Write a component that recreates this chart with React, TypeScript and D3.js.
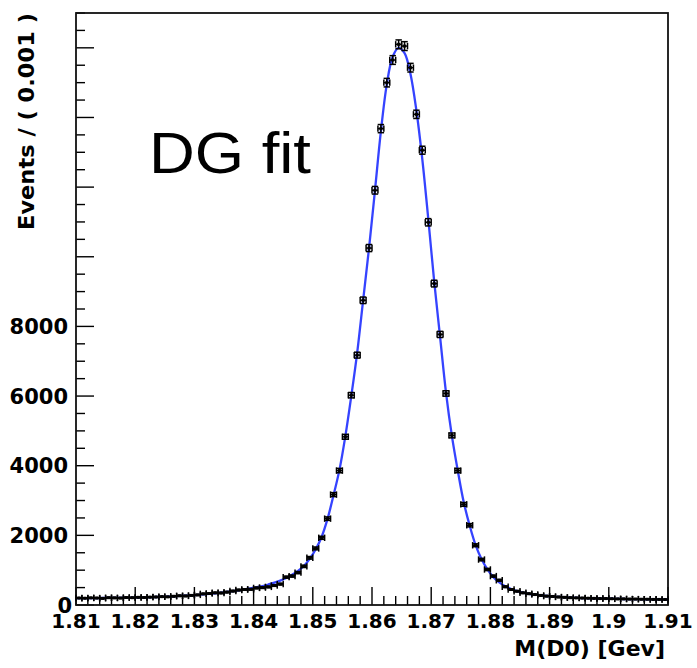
import React from "react";
import * as d3 from "d3";

// Histogram counts per 0.001 GeV bin, 1.810 .. 1.910 (100 bins)
const binEdgesStart = 1.81;
const binWidth = 0.001;
const counts = [
  200, 195, 205, 200, 190, 210, 205, 200, 215, 210,
  220, 215, 225, 230, 240, 235, 250, 265, 260, 275,
  290, 320, 330, 350, 345, 370, 400, 430, 445, 450,
  490, 500, 520, 560, 600, 800, 830, 930, 1110, 1355,
  1625, 1930, 2480, 3170, 3860, 4830, 6025, 7175, 8750, 10250,
  11910, 13680, 15000, 15650, 16100, 16050, 15430, 14090, 13060, 10990,
  9230, 7770, 6075, 4870, 3860, 2890, 2290, 1715, 1305, 1020,
  830, 710, 525, 445, 395, 350, 325, 300, 275, 255,
  245, 230, 220, 210, 205, 200, 195, 190, 185, 185,
  180, 175, 175, 170, 170, 165, 165, 160, 160, 158,
];

// Double-Gaussian fit curve, read at bin centres
const fitValues = [
  195, 196, 197, 199, 201, 203, 205, 207, 210, 213,
  216, 220, 225, 230, 236, 243, 251, 260, 269, 279,
  290, 305, 320, 337, 355, 375, 397, 422, 450, 480,
  510, 545, 590, 640, 700, 775, 870, 980, 1120, 1330,
  1600, 1960, 2480, 3150, 3880, 4850, 6000, 7250, 8750, 10250,
  11900, 13600, 14950, 15750, 16000, 15850, 15250, 14200, 12800, 11100,
  9300, 7700, 6100, 4850, 3850, 2950, 2280, 1720, 1320, 1020,
  800, 650, 540, 460, 400, 355, 320, 295, 275, 258,
  244, 232, 222, 213, 206, 200, 195, 190, 186, 182,
  179, 176, 173, 170, 168, 166, 164, 162, 160, 158,
];

const xTickLabels = ["1.81", "1.82", "1.83", "1.84", "1.85", "1.86", "1.87", "1.88", "1.89", "1.9", "1.91"];
const yTickValues = [0, 2000, 4000, 6000, 8000];
const yTickLabels = ["0", "2000", "4000", "6000", "8000"];

const W = 697;
const H = 668;
const L = 76, R = 668, T = 13, B = 605;

export default function App() {
  const x = d3.scaleLinear().domain([1.81, 1.91]).range([L, R]);
  const y = d3.scaleLinear().domain([0, 17000]).range([B, T]);

  const centers = counts.map((_, i) => binEdgesStart + (i + 0.5) * binWidth);

  const fitPts: [number, number][] = [
    [1.81, fitValues[0]],
    ...fitValues.map((v, i) => [centers[i], v] as [number, number]),
    [1.91, fitValues[fitValues.length - 1]],
  ];
  const line = d3
    .line<[number, number]>()
    .x((d) => x(d[0]))
    .y((d) => y(d[1]))
    .curve(d3.curveCatmullRom.alpha(0.5));

  const xTicks = d3.range(0, 51).map((k) => ({ v: 1.81 + k * 0.002, major: k % 5 === 0 }));
  const yTicks = d3.range(0, 35).map((k) => ({ v: k * 500, major: k % 4 === 0 }));

  const cap = 3.2;
  const font = "'DejaVu Sans', sans-serif";

  return (
    <svg
      width={W}
      height={H}
      style={{ position: "absolute", left: 0, top: 0, background: "#fff" }}
    >
      <rect x={0} y={0} width={W} height={H} fill="#fff" />
      {/* ticks */}
      {xTicks.map((t, i) => (
        <line
          key={"xt" + i}
          x1={x(t.v)}
          x2={x(t.v)}
          y1={B}
          y2={B - (t.major ? 18 : 9)}
          stroke="#000"
          strokeWidth={1.4}
        />
      ))}
      {yTicks.map((t, i) => (
        <line
          key={"yt" + i}
          x1={L}
          x2={L + (t.major ? 18 : 9)}
          y1={y(t.v)}
          y2={y(t.v)}
          stroke="#000"
          strokeWidth={1.4}
        />
      ))}
      {/* frame */}
      <rect x={L} y={T} width={R - L} height={B - T} fill="none" stroke="#111" strokeWidth={1.8} />

      {/* fit curve */}
      <path d={line(fitPts) || ""} fill="none" stroke="#1f2fff" strokeWidth={2.3} strokeOpacity={0.9} />

      {/* data points with error bars */}
      {counts.map((c, i) => {
        const cx = x(centers[i]);
        const cy = y(c);
        const xl = x(centers[i] - binWidth / 2);
        const xr = x(centers[i] + binWidth / 2);
        const err = Math.sqrt(c);
        const yt = y(c + err);
        const yb = y(c - err);
        return (
          <g key={"p" + i} stroke="#000" strokeWidth={1.5} fill="none">
            <line x1={xl} x2={xr} y1={cy} y2={cy} />
            <line x1={xl} x2={xl} y1={cy - cap} y2={cy + cap} />
            <line x1={xr} x2={xr} y1={cy - cap} y2={cy + cap} />
            <line x1={cx} x2={cx} y1={yt} y2={yb} />
            <line x1={cx - cap} x2={cx + cap} y1={yt} y2={yt} />
            <line x1={cx - cap} x2={cx + cap} y1={yb} y2={yb} />
            <rect x={cx - 1.5} y={cy - 1.5} width={3} height={3} fill="#000" stroke="none" />
          </g>
        );
      })}

      {/* y tick labels */}
      {yTickValues.map((v, i) => (
        <text
          key={"yl" + i}
          x={v === 0 ? 72 : 68}
          y={y(v)}
          dy="0.36em"
          textAnchor="end"
          fontFamily={font}
          fontWeight="bold"
          fontSize={21}
          fill="#000"
        >
          {yTickLabels[i]}
        </text>
      ))}
      {/* x tick labels */}
      {xTickLabels.map((s, i) => (
        <text
          key={"xl" + i}
          x={x(1.81 + i * 0.01)}
          y={628}
          textAnchor="middle"
          fontFamily={font}
          fontWeight="bold"
          fontSize={20}
          fill="#000"
        >
          {s}
        </text>
      ))}
      {/* axis titles */}
      <text
        x={665}
        y={656}
        textAnchor="end"
        fontFamily={font}
        fontWeight="bold"
        fontSize={22}
        fill="#000"
      >
        M(D0) [Gev]
      </text>
      <text
        transform="translate(34,13) rotate(-90)"
        textAnchor="end"
        fontFamily={font}
        fontWeight="bold"
        fontSize={22}
        textLength={217}
        lengthAdjust="spacingAndGlyphs"
        fill="#000"
      >
        Events / ( 0.001 )
      </text>
      {/* annotation */}
      <text
        x={149}
        y={173}
        fontFamily="'Liberation Sans', Arial, sans-serif"
        fontSize={57}
        textLength={162}
        lengthAdjust="spacingAndGlyphs"
        fill="#000"
      >
        DG fit
      </text>
    </svg>
  );
}
